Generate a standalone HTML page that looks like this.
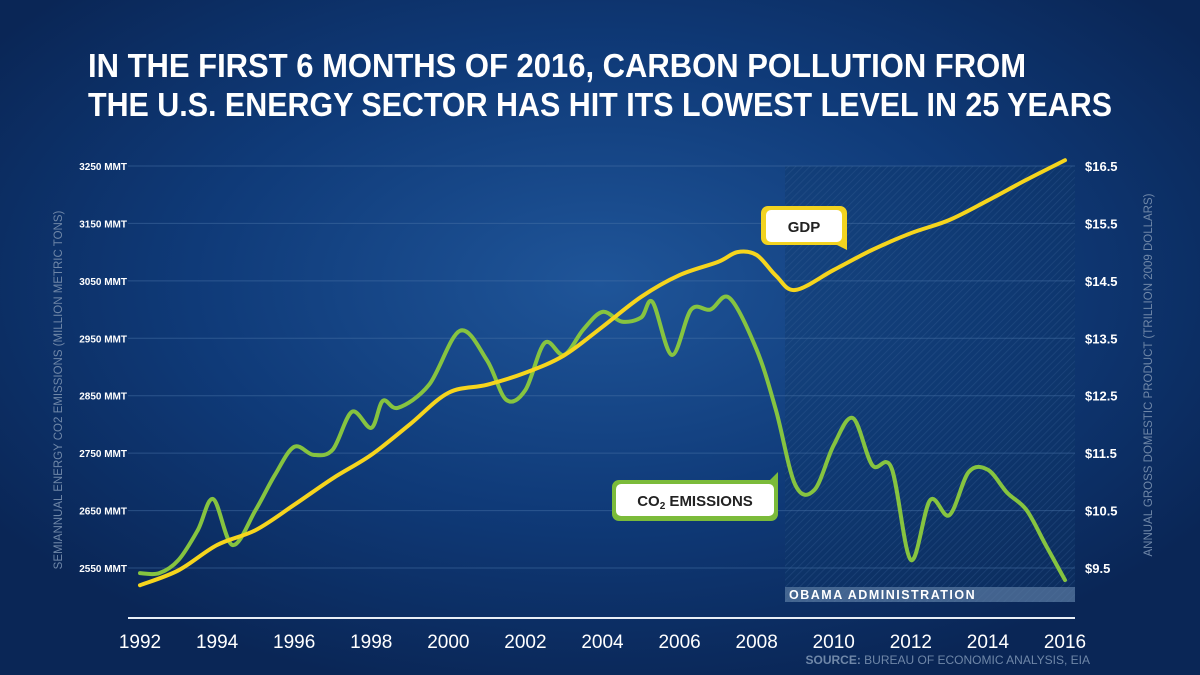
<!DOCTYPE html>
<html><head><meta charset="utf-8"><style>
html,body{margin:0;padding:0;background:#0a2656;}
svg{display:block;font-family:"Liberation Sans",sans-serif;}
</style></head><body>
<svg id="chart" width="1200" height="675" viewBox="0 0 1200 675">
<defs>
<radialGradient id="bg" cx="0.5" cy="0.42" r="0.62">
<stop offset="0" stop-color="#1f5599"/><stop offset="0.55" stop-color="#0f3a78"/><stop offset="1" stop-color="#0a2656"/>
</radialGradient>
<pattern id="hatch" width="5" height="5" patternUnits="userSpaceOnUse" patternTransform="rotate(45)">
<rect width="5" height="5" fill="#0f3568" fill-opacity="0.35"/><line x1="0" y1="0" x2="0" y2="5" stroke="#3d6599" stroke-opacity="0.35" stroke-width="1.5"/>
</pattern>
</defs>
<rect width="1200" height="675" fill="url(#bg)"/>
<text x="88" y="77" fill="#fff" font-weight="bold" font-size="33" textLength="938" lengthAdjust="spacingAndGlyphs">IN THE FIRST 6 MONTHS OF 2016, CARBON POLLUTION FROM</text>
<text x="88" y="116" fill="#fff" font-weight="bold" font-size="33" textLength="1024" lengthAdjust="spacingAndGlyphs">THE U.S. ENERGY SECTOR HAS HIT ITS LOWEST LEVEL IN 25 YEARS</text>
<rect x="785" y="166" width="290" height="436" fill="url(#hatch)"/>
<g id="grid"></g>
<rect x="785" y="587" width="290" height="15" fill="#5b7aa3" fill-opacity="0.7"/>
<text x="789" y="599" fill="#fff" font-weight="bold" font-size="12.5" letter-spacing="1.5">OBAMA ADMINISTRATION</text>
<line x1="128" y1="618" x2="1075" y2="618" stroke="#e8eef6" stroke-width="2"/>
<g id="series"></g>
<text transform="translate(62,390) rotate(-90)" text-anchor="middle" fill="#6f87a8" font-size="11.5">SEMIANNUAL ENERGY CO2 EMISSIONS (MILLION METRIC TONS)</text>
<text transform="translate(1152,375) rotate(-90)" text-anchor="middle" fill="#6f87a8" font-size="11.5">ANNUAL GROSS DOMESTIC PRODUCT (TRILLION 2009 DOLLARS)</text>
<g>
<path d="M768,206 h72 a7,7 0 0 1 7,7 v37 l-10,-5 h-69 a7,7 0 0 1 -7,-7 v-25 a7,7 0 0 1 7,-7z" fill="#f2d320"/>
<rect x="766" y="210" width="76" height="32" rx="5" fill="#fff"/>
<text x="804" y="232" text-anchor="middle" font-weight="bold" font-size="15" fill="#222">GDP</text>
</g>
<g>
<path d="M619,480 h151 l8,-8 v42 a7,7 0 0 1 -7,7 h-152 a7,7 0 0 1 -7,-7 v-27 a7,7 0 0 1 7,-7z" fill="#7bbb3a"/>
<rect x="616" y="484" width="158" height="32" rx="5" fill="#fff"/>
<text x="695" y="506" text-anchor="middle" font-weight="bold" font-size="15" fill="#222">CO<tspan font-size="10" dy="3">2</tspan><tspan dy="-3"> EMISSIONS</tspan></text>
</g>
<text x="1090" y="664" text-anchor="end" font-size="12" fill="#6f87a8"><tspan font-weight="bold">SOURCE:</tspan> BUREAU OF ECONOMIC ANALYSIS, EIA</text>
</svg>
<script>
const leftTicks=[2550,2650,2750,2850,2950,3050,3150,3250];
const rightTicks=[9.5,10.5,11.5,12.5,13.5,14.5,15.5,16.5];
const yearTicks=[1992,1994,1996,1998,2000,2002,2004,2006,2008,2010,2012,2014,2016];
const co2Years=[1992,1992.5,1993,1993.5,1993.9,1994.4,1995,1995.5,1996,1996.5,1997,1997.5,1998,1998.3,1998.7,1999.5,2000.3,2001,2001.5,2002,2002.5,2003,2003.5,2004,2004.5,2005,2005.3,2005.8,2006.3,2006.8,2007.3,2008,2008.5,2009,2009.5,2010,2010.5,2011,2011.5,2012,2012.5,2013,2013.5,2014,2014.5,2015,2015.5,2016];
const co2Values=[2541,2541,2564,2616,2670,2590,2651,2712,2761,2747,2756,2822,2794,2841,2829,2869,2963,2912,2843,2860,2942,2921,2965,2996,2979,2986,3013,2921,3000,3000,3020,2930,2825,2695,2686,2764,2811,2729,2724,2564,2668,2642,2717,2721,2681,2651,2590,2529];
const gdpYears=[1992,1993,1994,1995,1996,1997,1998,1999,2000,2001,2002,2003,2004,2005,2006,2007,2007.5,2008,2008.5,2009,2010,2011,2012,2013,2014,2015,2016];
const gdpValues=[9.2,9.46,9.9,10.16,10.6,11.06,11.47,12.0,12.55,12.69,12.9,13.2,13.7,14.22,14.6,14.83,15.0,14.95,14.59,14.34,14.69,15.04,15.33,15.56,15.9,16.26,16.6];

const NS="http://www.w3.org/2000/svg";
const xS=y=>140+(y-1992)*(1065-140)/24;
const yL=v=>568-(v-2550)*(568-166)/700;
const yR=v=>yL(2550+(v-9.5)*100);
const grid=document.getElementById('grid');
const series=document.getElementById('series');
function mk(tag,attrs,parent){const e=document.createElementNS(NS,tag);for(const k in attrs)e.setAttribute(k,attrs[k]);parent.appendChild(e);return e;}
leftTicks.forEach((t,i)=>{
  const l=mk('line',{x1:128,x2:1075,y1:yL(t),y2:yL(t),stroke:'#4a74a8','stroke-opacity':0.5,'stroke-width':1},grid);
  
  
  const tx=mk('text',{x:127,y:yL(t)+4,fill:'#fff','font-size':10,'font-weight':'bold','text-anchor':'end'},grid);
  tx.textContent=t+' MMT';
  
  
});
rightTicks.forEach(t=>{
  const tx=mk('text',{x:1085,y:yR(t)+5,fill:'#fff','font-size':13,'font-weight':'bold'},grid);
  tx.textContent='$'+t.toFixed(1);
  
  
});
yearTicks.forEach(t=>{
  const tx=mk('text',{x:xS(t),y:648,fill:'#fff','font-size':19,'text-anchor':'middle'},grid);
  tx.textContent=t;
  
  
});
function smooth(pts){
  let d='M'+pts[0][0]+','+pts[0][1];
  for(let i=0;i<pts.length-1;i++){
    const p0=pts[Math.max(0,i-1)],p1=pts[i],p2=pts[i+1],p3=pts[Math.min(pts.length-1,i+2)];
    const c1=[p1[0]+(p2[0]-p0[0])/6,p1[1]+(p2[1]-p0[1])/6];
    const c2=[p2[0]-(p3[0]-p1[0])/6,p2[1]-(p3[1]-p1[1])/6];
    d+=' C'+c1.join(',')+' '+c2.join(',')+' '+p2.join(',');
  }
  return d;
}
const co2=mk('path',{d:smooth(co2Years.map((y,i)=>[xS(y),yL(co2Values[i])])),fill:'none',stroke:'#86c440','stroke-width':4,'stroke-linejoin':'round','stroke-linecap':'round'},series);


const gdp=mk('path',{d:smooth(gdpYears.map((y,i)=>[xS(y),yR(gdpValues[i])])),fill:'none',stroke:'#f6d51d','stroke-width':4,'stroke-linejoin':'round','stroke-linecap':'round'},series);


</script>
</body></html>
